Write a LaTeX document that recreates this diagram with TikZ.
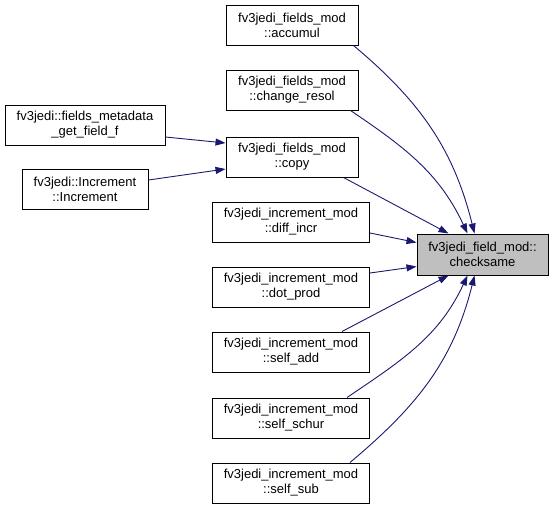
\documentclass[tikz,border=0pt]{standalone}
\usepackage{fontspec}
\setmainfont{Liberation Sans}
\usetikzlibrary{arrows.meta}
\definecolor{edgeblue}{HTML}{191970}
\definecolor{hlgray}{HTML}{BFBFBF}

\begin{document}
\begin{tikzpicture}[x=1pt, y=-1pt,
    box/.style={draw=black, line width=1pt, fill=white, align=center,
        minimum height=40, inner sep=0pt,
        font=\fontsize{13}{15}\selectfont},
    calls/.style={draw=edgeblue, line width=0.9pt,
        -{Triangle[length=10pt, width=7pt]}}]
\useasboundingbox (0, 0) rectangle (553, 509);
\begin{scope}
    % Define nodes
    \node[box, minimum width=132] (accumul) at (292, 25)
        {fv3jedi\_fields\_mod\\::accumul};
    \node[box, minimum width=132] (changeresol) at (292, 90)
        {fv3jedi\_fields\_mod\\::change\_resol};
    \node[box, minimum width=132] (copy) at (292, 157)
        {fv3jedi\_fields\_mod\\::copy};
    \node[box, minimum width=160] (metadata) at (85, 125)
        {fv3jedi::fields\_metadata\\\_get\_field\_f};
    \node[box, minimum width=126] (increment) at (85, 189)
        {fv3jedi::Increment\\::Increment};
    \node[box, minimum width=157] (diffincr) at (291, 222)
        {fv3jedi\_increment\_mod\\::diff\_incr};
    \node[box, minimum width=157] (dotprod) at (291, 287)
        {fv3jedi\_increment\_mod\\::dot\_prod};
    \node[box, minimum width=157] (selfadd) at (291, 352)
        {fv3jedi\_increment\_mod\\::self\_add};
    \node[box, minimum width=157] (selfschur) at (291, 418)
        {fv3jedi\_increment\_mod\\::self\_schur};
    \node[box, minimum width=157] (selfsub) at (291, 483)
        {fv3jedi\_increment\_mod\\::self\_sub};
    \node[box, fill=hlgray, minimum width=131, minimum height=41] (checksame) at (482.5, 254.5)
        {fv3jedi\_field\_mod::\\checksame};

    % Callers of copy
    \draw[calls] ([yshift=-12]metadata.east) -- ([yshift=14]copy.west);
    \draw[calls] ([yshift=9]increment.east) -- ([yshift=-12]copy.west);

    % Callers of checksame
    \draw[calls] ([xshift=-5]accumul.south east)
        to[out=-40, in=104] ([xshift=-8]checksame.north);
    \draw[calls] ([xshift=-8]changeresol.south east)
        to[out=-34, in=115] ([xshift=-15]checksame.north);
    \draw[calls] ([xshift=-15]copy.south east) -- ([xshift=-34]checksame.north);
    \draw[calls] ([yshift=-11]diffincr.east) -- ([yshift=12]checksame.west);
    \draw[calls] ([yshift=14]dotprod.east) -- ([yshift=-12]checksame.west);
    \draw[calls] ([xshift=51]selfadd.north) -- ([xshift=-34]checksame.south);
    \draw[calls] ([xshift=56]selfschur.north)
        to[out=34, in=-115] ([xshift=-15]checksame.south);
    \draw[calls] ([xshift=59]selfsub.north)
        to[out=40, in=-104] ([xshift=-8]checksame.south);
\end{scope}
\end{tikzpicture}
\end{document}
